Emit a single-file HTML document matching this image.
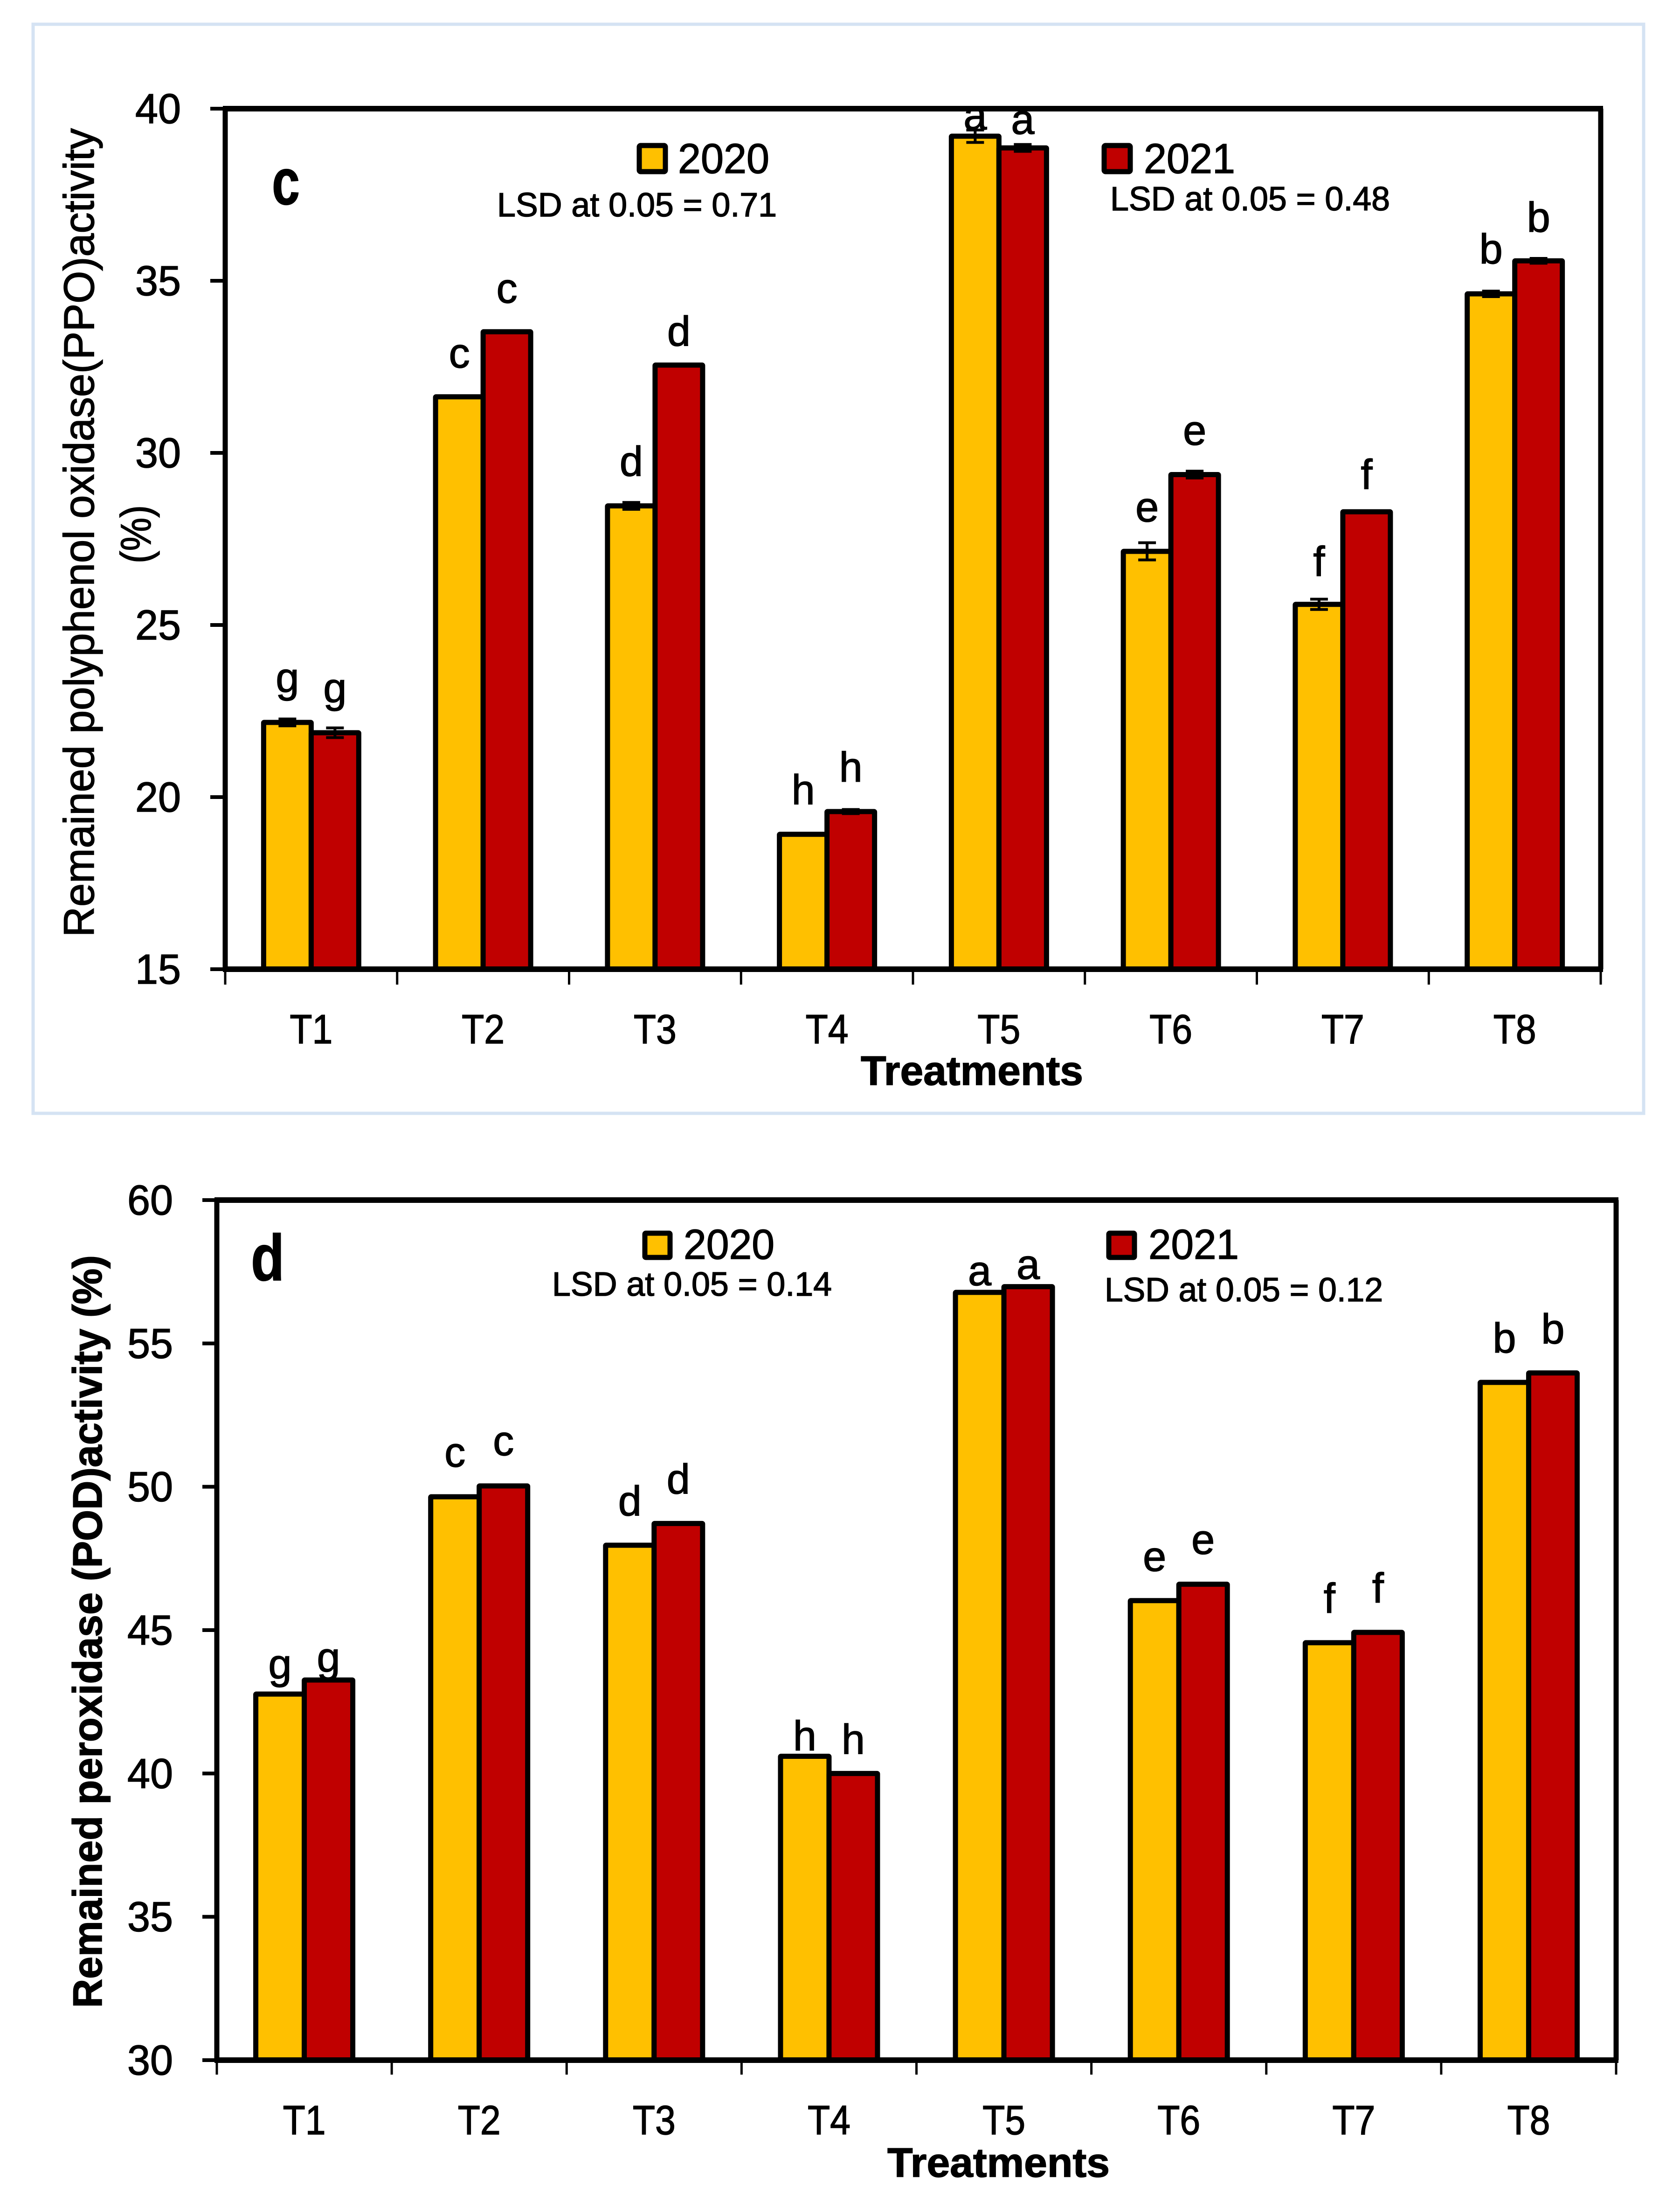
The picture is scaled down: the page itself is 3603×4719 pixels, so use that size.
<!DOCTYPE html>
<html lang="en">
<head>
<meta charset="utf-8">
<title>Remained PPO and POD activity by treatment</title>
<style>
html,body{margin:0;padding:0;background:#fff;}
svg{display:block;font-family:"Liberation Sans",sans-serif;}
text{fill:#000;stroke:#000;stroke-width:1.5px;}
</style>
</head>
<body>
<svg id="figure" xmlns="http://www.w3.org/2000/svg" width="3603" height="4719" viewBox="0 0 3603 4719">
  <rect x="0" y="0" width="3603" height="4719" fill="#fff"/>
  <rect x="71" y="52" width="3454" height="2335" fill="#fff" stroke="#d5e3f3" stroke-width="7"/>

  <g id="chart-c"></g>
  <g id="chart-d"></g>

  <text x="583" y="438" font-size="140" font-weight="bold" textLength="60" lengthAdjust="spacingAndGlyphs">c</text>
  <text transform="translate(201 2009) rotate(-90)" font-size="92" textLength="1734" lengthAdjust="spacingAndGlyphs">Remained polyphenol oxidase(PPO)activity</text>
  <text transform="translate(323 1208) rotate(-90)" font-size="92" textLength="125" lengthAdjust="spacingAndGlyphs">(%)</text>
  <text x="1846" y="2326" font-size="88" font-weight="bold" textLength="477" lengthAdjust="spacingAndGlyphs">Treatments</text>
  <rect x="1371" y="312" width="56" height="56" rx="3" fill="#FFC000" stroke="#000" stroke-width="11"/>
  <text x="1454" y="371" font-size="90" textLength="196" lengthAdjust="spacingAndGlyphs">2020</text>
  <rect x="2368" y="312" width="56" height="56" rx="3" fill="#C00000" stroke="#000" stroke-width="11"/>
  <text x="2453" y="371" font-size="90" textLength="196" lengthAdjust="spacingAndGlyphs">2021</text>
  <text x="1066" y="464" font-size="72" textLength="600" lengthAdjust="spacingAndGlyphs">LSD at 0.05 = 0.71</text>
  <text x="2381" y="451" font-size="72" textLength="600" lengthAdjust="spacingAndGlyphs">LSD at 0.05 = 0.48</text>

  <text x="538" y="2745" font-size="140" font-weight="bold" textLength="72" lengthAdjust="spacingAndGlyphs">d</text>
  <text transform="translate(218 4305) rotate(-90)" font-size="88" font-weight="bold" textLength="1614" lengthAdjust="spacingAndGlyphs">Remained peroxidase (POD)activity (%)</text>
  <text x="1903" y="4667" font-size="88" font-weight="bold" textLength="477" lengthAdjust="spacingAndGlyphs">Treatments</text>
  <rect x="1383" y="2644" width="54" height="52" rx="2" fill="#FFC000" stroke="#000" stroke-width="11"/>
  <text x="1466" y="2699" font-size="90" textLength="195" lengthAdjust="spacingAndGlyphs">2020</text>
  <rect x="2378" y="2644" width="55" height="52" rx="2" fill="#C00000" stroke="#000" stroke-width="11"/>
  <text x="2463" y="2699" font-size="90" textLength="194" lengthAdjust="spacingAndGlyphs">2021</text>
  <text x="1184" y="2778" font-size="72" textLength="600" lengthAdjust="spacingAndGlyphs">LSD at 0.05 = 0.14</text>
  <text x="2369" y="2790" font-size="72" textLength="597" lengthAdjust="spacingAndGlyphs">LSD at 0.05 = 0.12</text>
</svg>

<script>
// Shared categories
const categories = ['T1','T2','T3','T4','T5','T6','T7','T8'];

// Panel c: remained polyphenol oxidase (PPO) activity
const ppoTicks = [15,20,25,30,35,40];
const ppo2020 = [22.17,31.63,28.46,18.92,39.2,27.14,25.6,34.62];
const ppo2021 = [21.87,33.52,32.55,19.58,38.86,29.37,28.29,35.58];
const ppoErr2020 = [0.1,0.02,0.1,0,0.18,0.25,0.15,0.08];
const ppoErr2021 = [0.14,0.02,0.03,0.06,0.1,0.1,0.02,0.07];
const ppoLetters2020 = ['g','c','d','h','a','e','f','b'];
const ppoLetters2021 = ['g','c','d','h','a','e','f','b'];
const ppoLift2020 = [0.88,0.85,0.87,0.87,0.20,0.87,0.82,0.88];
const ppoLift2021 = [0.88,0.84,0.56,0.87,0.41,0.87,0.66,0.84];

// Panel d: remained peroxidase (POD) activity
const podTicks = [30,35,40,45,50,55,60];
const pod2020 = [42.77,49.65,47.96,40.6,56.78,46.03,44.56,53.64];
const pod2021 = [43.26,50.03,48.72,40.0,56.98,46.6,44.92,53.97];
const podErr2020 = [0,0,0,0,0,0,0,0];
const podErr2021 = [0,0,0,0,0,0,0,0];
const podLetters2020 = ['g','c','d','h','a','e','f','b'];
const podLetters2021 = ['g','c','d','h','a','e','f','b'];
const podLift2020 = [0.54,1.05,1.03,0.2,0.25,1.04,1.04,1.04];
const podLift2021 = [0.28,1.07,1.04,0.68,0.27,1.06,1.04,1.03];

const SVGNS = 'http://www.w3.org/2000/svg';
function make(tag, attrs, parent){
  const n = document.createElementNS(SVGNS, tag);
  for (const k in attrs) n.setAttribute(k, attrs[k]);
  parent.appendChild(n);
  return n;
}

function drawChart(g, prefix, frame, ticks, s1, s2, e1, e2, l1, l2, lift1, lift2){
  const yMin = ticks[0], yMax = ticks[ticks.length-1];
  const yScale = v => frame.bottom - (v - yMin) / (yMax - yMin) * (frame.bottom - frame.top);
  const band = (frame.right - frame.left) / categories.length;
  const xCenter = i => frame.left + band * (i + 0.5);

  categories.forEach((cat, i) => {
    [[s1,'#FFC000',-1,'2020',e1,l1,lift1],[s2,'#C00000',0,'2021',e2,l2,lift2]].forEach(sr => {
      const values = sr[0], fill = sr[1], side = sr[2], year = sr[3], errs = sr[4], letters = sr[5], lifts = sr[6];
      const x = xCenter(i) + side * frame.barWidth;
      const y = yScale(values[i]);
      const bar = make('rect', {x:x, y:y, width:frame.barWidth, height:frame.bottom - y, fill:fill, stroke:'#000', 'stroke-width':11, rx:1}, g);
      
      

      const cx = x + frame.barWidth / 2;
      if (errs[i] > 0) {
        const up = yScale(values[i] + errs[i]), dn = yScale(values[i] - errs[i]);
        const err = make('path', {d:'M'+cx+' '+up+'V'+dn+'M'+(cx-19)+' '+up+'H'+(cx+19)+'M'+(cx-19)+' '+dn+'H'+(cx+19), fill:'none', stroke:'#000', 'stroke-width':6}, g);
        
        
      }

      const label = make('text', {x:cx, y:yScale(values[i] + lifts[i]), 'font-size':90, 'text-anchor':'middle'}, g);
      label.textContent = letters[i];
      
      
    });

    const catLabel = make('text', {x:xCenter(i), y:frame.catBaseline, 'font-size':88, 'text-anchor':'middle', textLength:92, lengthAdjust:'spacingAndGlyphs'}, g);
    catLabel.textContent = cat;
    
    
  });

  for (let i = 0; i <= categories.length; i++) {
    const xt = frame.left + band * i;
    const tick = make('line', {x1:xt, x2:xt, y1:frame.bottom, y2:frame.tickBottom, stroke:'#000', 'stroke-width':5}, g);
    
    
  }

  ticks.forEach(t => {
    const y = yScale(t);
    const tick = make('line', {x1:frame.tickLeft, x2:frame.left, y1:y, y2:y, stroke:'#000', 'stroke-width':8}, g);
    
    
    const lab = make('text', {x:frame.labelRight, y:y + 31, 'font-size':90, 'text-anchor':'end', textLength:98, lengthAdjust:'spacingAndGlyphs'}, g);
    lab.textContent = String(t);
    
    
  });

  const top = make('line', {x1:frame.left - 5, x2:frame.right + 5, y1:frame.top, y2:frame.top, stroke:'#000', 'stroke-width':12}, g);
  
  
  const left = make('line', {x1:frame.left, x2:frame.left, y1:frame.top, y2:frame.bottom, stroke:'#000', 'stroke-width':11}, g);
  
  
  const right = make('line', {x1:frame.right, x2:frame.right, y1:frame.top, y2:frame.bottom, stroke:'#000', 'stroke-width':11}, g);
  
  
  const bottom = make('line', {x1:frame.left - 5, x2:frame.right + 5, y1:frame.bottom, y2:frame.bottom, stroke:'#000', 'stroke-width':12}, g);
  
  
}

drawChart(document.getElementById('chart-c'), 'panel-c',
  {left:483, right:3433, top:233, bottom:2078, tickLeft:451, tickBottom:2111, labelRight:388, catBaseline:2237, barWidth:102},
  ppoTicks, ppo2020, ppo2021, ppoErr2020, ppoErr2021, ppoLetters2020, ppoLetters2021, ppoLift2020, ppoLift2021);

drawChart(document.getElementById('chart-d'), 'panel-d',
  {left:465, right:3466, top:2573, bottom:4417, tickLeft:434, tickBottom:4448, labelRight:371, catBaseline:4576, barWidth:104},
  podTicks, pod2020, pod2021, podErr2020, podErr2021, podLetters2020, podLetters2021, podLift2020, podLift2021);
</script>
</body>
</html>
